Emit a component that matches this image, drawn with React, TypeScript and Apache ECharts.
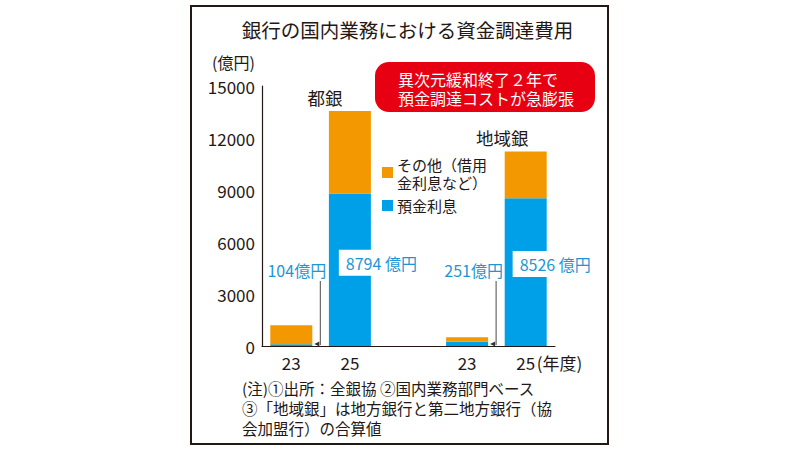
import React, { useEffect, useRef } from "react";
import * as echarts from "echarts";

const categories = ["23", "25", "", "23", "25"];
const depositInterest: (number | null)[] = [104, 8794, null, 251, 8526];
const otherCosts: (number | null)[] = [1100, 4760, null, 260, 2690];
const yMin = 0;
const yMax = 15000;
const yInterval = 3000;
const groupNames = ["都銀", "地域銀"];
const smallLabels = ["104億円", "251億円"];
const seriesNames = ["預金利息", "その他（借用金利息など）"];
const legendLines = [["その他（借用", "金利息など）"], ["預金利息"]];
const titleText = "銀行の国内業務における資金調達費用";
const unitText = "(億円)";
const yearUnit = "(年度)";
const headline = ["異次元緩和終了２年で", "預金調達コストが急膨張"];
const notes = [
  "(注)①出所：全銀協 ②国内業務部門ベース",
  "③「地域銀」は地方銀行と第二地方銀行（協",
  "会加盟行）の合算値",
];

const FONT = '"Noto Sans CJK JP", "Noto Sans", sans-serif';
const INK = "#231815";
const BLUE = "#00A0E9";
const ORANGE = "#F39800";
const LABEL_BLUE = "#1E96D4";
const RED = "#E60012";

function txt(text: string, x: number, y: number, size: number, color: string, align = "left", extra: any = {}) {
  return {
    type: "text",
    x,
    y,
    silent: true,
    style: {
      text,
      fill: color,
      fontSize: size,
      fontFamily: FONT,
      align,
      textAlign: align,
      verticalAlign: "middle",
      textVerticalAlign: "middle",
      ...extra,
    },
  };
}

export default function App() {
  const ref = useRef<HTMLDivElement>(null);
  useEffect(() => {
    if (!ref.current) return;
    const chart = echarts.init(ref.current, null, { renderer: "svg" });
    const bigLabel = (offset: number[]) => ({
      show: true,
      position: "inside",
      offset,
      formatter: "{c} 億円",
      backgroundColor: "#fff",
      padding: [5, 4, 5, 7],
      color: LABEL_BLUE,
      fontSize: 16,
      fontFamily: FONT,
    });
    const blueData = depositInterest.map((v, i) => {
      if (v === null) return null;
      if (i === 1) return { value: v, label: bigLabel([30, -7]) };
      if (i === 4) return { value: v, label: bigLabel([28, -8]) };
      return { value: v };
    });
    chart.setOption({
      animation: false,
      textStyle: { fontFamily: FONT },
      grid: { left: 262, right: 245, top: 86, bottom: 104, containLabel: false },
      xAxis: {
        type: "category",
        data: categories,
        axisTick: { show: false },
        axisLine: { lineStyle: { color: INK, width: 1.2 } },
        axisLabel: { fontSize: 17, color: INK, margin: 8, fontFamily: FONT },
      },
      yAxis: {
        type: "value",
        min: yMin,
        max: yMax,
        interval: yInterval,
        splitLine: { show: false },
        axisTick: { show: false },
        axisLine: { show: true, lineStyle: { color: INK, width: 1.2 } },
        axisLabel: {
          fontSize: 17,
          color: INK,
          margin: 7,
          fontFamily: FONT,
          formatter: (v: number) => String(v),
        },
      },
      series: [
        {
          name: seriesNames[0],
          type: "bar",
          stack: "total",
          barWidth: 42,
          itemStyle: { color: BLUE },
          data: blueData,
        },
        {
          name: seriesNames[1],
          type: "bar",
          stack: "total",
          barWidth: 42,
          itemStyle: { color: ORANGE },
          data: otherCosts,
        },
      ],
    });

    const px = (i: number, v: number) => chart.convertToPixel({ gridIndex: 0 }, [i, v]) as number[];
    const axisY = px(0, 0)[1];
    const c0 = px(0, 0)[0];
    const c1 = px(1, 0)[0];
    const c3 = px(3, 0)[0];
    const c4 = px(4, 0)[0];

    const arrow = (lx: number) => [
      {
        type: "line",
        silent: true,
        shape: { x1: lx, y1: 281, x2: lx, y2: axisY - 1 },
        style: { stroke: "#4a4a4a", lineWidth: 1 },
      },
      {
        type: "polygon",
        silent: true,
        shape: { points: [[lx - 6, axisY - 2], [lx - 1, axisY - 4.5], [lx - 1, axisY + 0.5]] },
        style: { fill: "#333" },
      },
    ];

    const graphics: any[] = [
      {
        type: "rect",
        silent: true,
        shape: { x: 191, y: 6, width: 417, height: 438 },
        style: { fill: "none", stroke: INK, lineWidth: 2 },
      },
      txt(titleText, 407.5, 29, 19.5, INK, "center"),
      txt(unitText, 212, 62, 16, INK, "left"),
      {
        type: "rect",
        silent: true,
        shape: { x: 375, y: 62, width: 220, height: 50, r: 14 },
        style: { fill: RED },
      },
      txt(headline[0], 398, 78.5, 16, "#fff", "left"),
      txt(headline[1], 398, 98, 16, "#fff", "left"),
      txt(groupNames[0], c1 - 25, 97, 17.5, INK, "center"),
      txt(groupNames[1], c4 - 23.5, 137, 17.5, INK, "center"),
      txt(smallLabels[0], c0 + 5.5, 270, 16, LABEL_BLUE, "center"),
      txt(smallLabels[1], c3 + 6.5, 270, 16, LABEL_BLUE, "center"),
      ...arrow(c0 + 29),
      ...arrow(c3 + 29),
      txt(yearUnit, c4 + 11, axisY + 16, 17, INK, "left"),
      // legend
      { type: "rect", silent: true, shape: { x: 382, y: 167, width: 11, height: 11 }, style: { fill: ORANGE } },
      txt(legendLines[0][0], 397, 164.5, 15, INK, "left"),
      txt(legendLines[0][1], 397, 182, 15, INK, "left"),
      { type: "rect", silent: true, shape: { x: 382, y: 200, width: 11, height: 11 }, style: { fill: BLUE } },
      txt(legendLines[1][0], 397, 205, 15, INK, "left"),
      txt(notes[0], 242, 388, 15.5, INK, "left"),
      txt(notes[1], 242, 408, 15.5, INK, "left"),
      txt(notes[2], 242, 428, 15.5, INK, "left"),
    ];
    chart.setOption({ graphic: graphics });
    return () => chart.dispose();
  }, []);
  return <div ref={ref} style={{ width: 800, height: 450, position: "absolute", left: 0, top: 0 }} />;
}
